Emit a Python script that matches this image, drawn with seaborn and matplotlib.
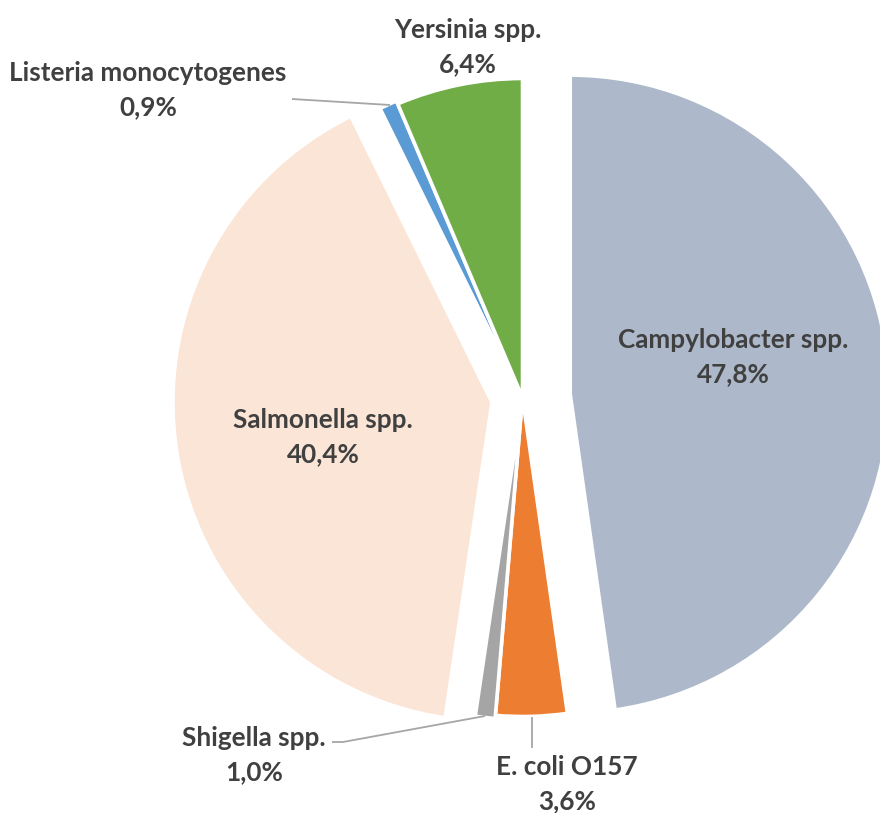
import matplotlib
matplotlib.use("Agg")
import matplotlib.pyplot as plt
import seaborn as sns

# --- data ---
categories = ["Campylobacter spp.", "E. coli O157", "Shigella spp.",
              "Salmonella spp.", "Listeria monocytogenes", "Yersinia spp."]
shares = [47.8, 3.6, 1.0, 40.4, 0.9, 6.4]
colors = ["#ADB9CA", "#ED7D31", "#A5A5A5", "#FBE5D6", "#5B9BD5", "#70AD47"]
explode = [0.15, 0.0, 0.01, 0.097, 0.01, 0.0]  # fraction of radius

# --- layout (pixel coords, y from top) ---
W, H = 880, 813
CENTER = (522.5, 397.5)
RADIUS = 319
# label centres: (x, y of name line)
label_pos = [(733, 340), (567, 767), (254, 738), (323, 420), (148, 73), (468, 30)]
LINE_GAP = 34
leaders = {
    1: [(532, 717), (532, 748)],
    2: [(332, 742), (343, 742), (485, 716)],
    4: [(292, 99), (390, 105)],
}

sns.set_style("white")
plt.rcParams["font.family"] = ["Lato", "DejaVu Sans"]

fig = plt.figure(figsize=(W / 100, H / 100), dpi=100)
ax = fig.add_axes([0, 0, 1, 1])

# matplotlib's explode is in data units, so scale by the radius
ax.pie(shares, colors=colors, explode=[e * RADIUS for e in explode],
       startangle=90, counterclock=False,
       center=(CENTER[0], H - CENTER[1]), radius=RADIUS,
       wedgeprops=dict(edgecolor="white", linewidth=2.6), frame=True)
ax.set_xlim(0, W)
ax.set_ylim(0, H)
ax.set_aspect("equal")
ax.axis("off")

for name, val, (lx, ly) in zip(categories, shares, label_pos):
    pct = f"{val:.1f}%".replace(".", ",")
    ax.text(lx, H - ly, name, ha="center", va="center", fontsize=18.8,
            fontweight="bold", color="#404040")
    ax.text(lx, H - ly - LINE_GAP, pct, ha="center", va="center", fontsize=18.8,
            fontweight="bold", color="#404040")

for pts in leaders.values():
    xs = [p[0] for p in pts]
    ys = [H - p[1] for p in pts]
    ax.plot(xs, ys, color="#A6A6A6", lw=1.3, solid_capstyle="butt")

fig.savefig("out.png", dpi=100)
